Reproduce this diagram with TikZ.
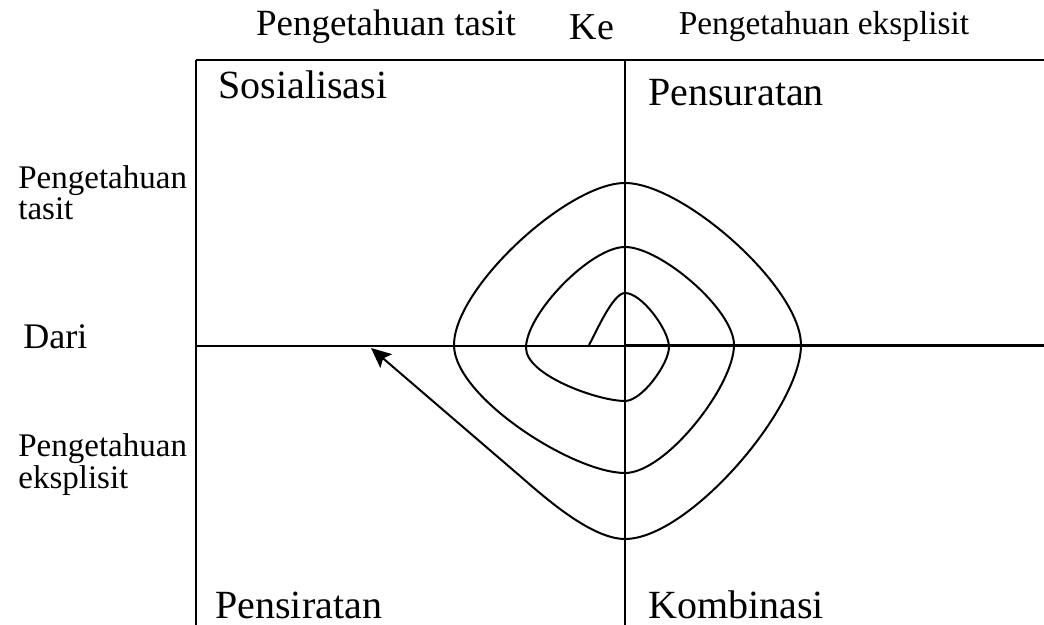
\documentclass[tikz,border=0pt]{standalone}
\usepackage{fontspec}
\setmainfont{Liberation Serif}
\usetikzlibrary{arrows.meta}

\begin{document}
\begin{tikzpicture}[x=0.5pt, y=0.5pt,
  head/.style={inner sep=0pt, font=\fontsize{17.5}{21}\selectfont},
  quad/.style={anchor=west, inner sep=0pt, font=\fontsize{20}{24}\selectfont},
  side/.style={anchor=north west, inner sep=0pt, align=left,
               font=\fontsize{16.5}{14}\selectfont},
  frame/.style={line width=0.75pt},
  spiral/.style={line width=1pt, looseness=0.62}]
  \useasboundingbox (0,0) rectangle (1044,625);
  % frame and axes
  \coordinate (tl) at (196,565);
  \coordinate (tr) at (1044,565);
  \coordinate (bl) at (196,0);
  \coordinate (tm) at (625,565);
  \coordinate (bm) at (625,0);
  \coordinate (ml) at (196,279);
  \coordinate (o) at (625,279);
  \coordinate (mr) at (1044,279);
  \draw[frame] (bl) -- (tl);
  \draw[line width=1pt] (tl) -- (tr);
  \draw[frame] (tm) -- (bm);
  \draw[frame] (ml) -- (o);
  \draw[line width=1.5pt] (o) -- (mr);
  % labels
  \node[head, font=\fontsize{18.5}{22}\selectfont] (tacit) at (386,598) {Pengetahuan tasit};
  \node[head, font=\fontsize{19}{22}\selectfont] (ke) at (592,598) {Ke};
  \node[head, font=\fontsize{16.7}{20}\selectfont] (explicit) at (824,598) {Pengetahuan eksplisit};
  \node[quad] (sos) at (218,540) {Sosialisasi};
  \node[quad] (ext) at (648,532) {Pensuratan};
  \node[quad] (int) at (215,20) {Pensiratan};
  \node[quad] (comb) at (648,20) {Kombinasi};
  \node[side] (fromtacit) at (18,460) {Pengetahuan\\tasit};
  \node[side, anchor=west, font=\fontsize{18}{20}\selectfont] (from) at (23,288) {Dari};
  \node[side] (fromexplicit) at (18,192) {Pengetahuan\\eksplisit};
  % spiral
  \coordinate (s0) at (589,280);
  \coordinate (t1) at (625,332);
  \coordinate (r1) at (669,278);
  \coordinate (b1) at (625,224);
  \coordinate (l1) at (526,277);
  \coordinate (t2) at (625,378);
  \coordinate (r2) at (734,280);
  \coordinate (b2) at (625,152);
  \coordinate (l2) at (454,280);
  \coordinate (t3) at (625,442);
  \coordinate (r3) at (801,280);
  \coordinate (b3) at (625,86);
  \coordinate (k) at (520,149);
  \coordinate (tip) at (371,277);
  \draw[spiral, -{Stealth[length=10pt, width=9pt, inset=2pt]}]
    (s0) to[out=60, in=180, looseness=0.5] (t1) to[out=0, in=90] (r1)
    to[out=-90, in=0] (b1) to[out=180, in=-90] (l1)
    to[out=90, in=180] (t2) to[out=0, in=90] (r2)
    to[out=-90, in=0] (b2) to[out=180, in=-90] (l2)
    to[out=90, in=180] (t3) to[out=0, in=90] (r3)
    to[out=-90, in=0] (b3) to[out=180, in=-41, looseness=0.7] (k) -- (tip);
\end{tikzpicture}
\end{document}
